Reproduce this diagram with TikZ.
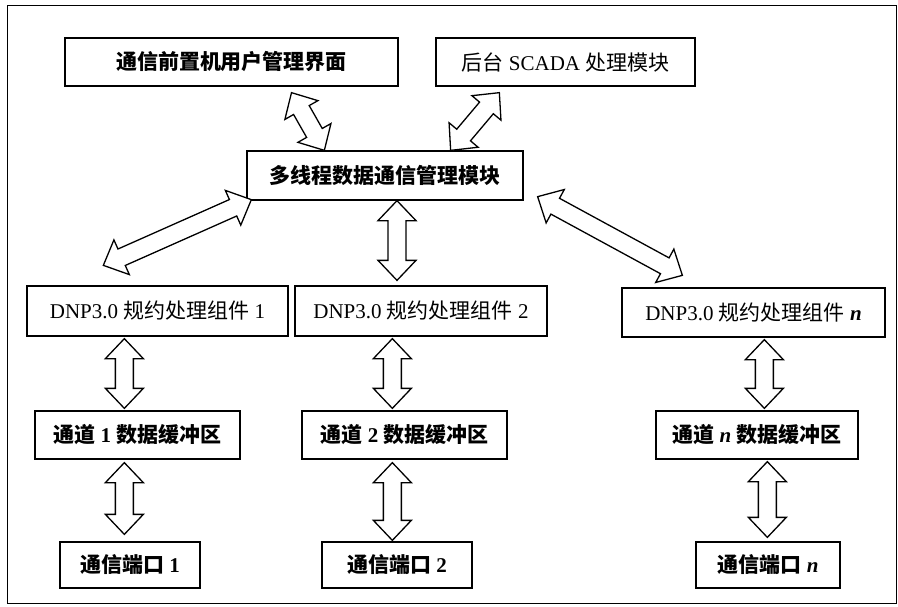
\documentclass[tikz,border=0pt]{standalone}
\usepackage{fontspec}
\setmainfont{Liberation Serif}
\newfontfamily\cjk{Noto Sans CJK SC}
\usetikzlibrary{calc}
\tikzset{
  box/.style={draw, line width=1.3pt, inner sep=0pt, font=\fontsize{21}{25}\selectfont},
  harrow/.style={draw, fill=white, line width=1.3pt, line join=miter},
  frame/.style={draw, line width=1pt}
}
\def\arHW{19pt}\def\arSW{9pt}\def\arHL{20pt}
\newcommand\hollow[2]{%
  \path[harrow] let \p1=(#1), \p2=(#2), \n1={atan2(\y2-\y1,\x2-\x1)}, \n2={veclen(\x2-\x1,\y2-\y1)} in
  (\p1) -- ($(\p1)+({\n1}:\arHL)+({\n1+90}:\arHW)$)
  -- ($(\p1)+({\n1}:\arHL)+({\n1+90}:\arSW)$)
  -- ($(\p1)+({\n1}:{\n2-\arHL})+({\n1+90}:\arSW)$)
  -- ($(\p1)+({\n1}:{\n2-\arHL})+({\n1+90}:\arHW)$)
  -- (\p2)
  -- ($(\p1)+({\n1}:{\n2-\arHL})+({\n1-90}:\arHW)$)
  -- ($(\p1)+({\n1}:{\n2-\arHL})+({\n1-90}:\arSW)$)
  -- ($(\p1)+({\n1}:\arHL)+({\n1-90}:\arSW)$)
  -- ($(\p1)+({\n1}:\arHL)+({\n1-90}:\arHW)$)
  -- cycle;}
\begin{document}
\begin{tikzpicture}[x=1pt,y=-1pt]
\useasboundingbox (0,0) rectangle (898,606);
\draw[frame] (7,5) rectangle (896,603);

\node[box, minimum width=333pt, minimum height=48pt] (b1) at (231.5,62) {\cjk\bfseries 通信前置机用户管理界面};
\node[box, minimum width=259pt, minimum height=48pt] (b2) at (565.5,62) {{\cjk 后台} SCADA {\cjk 处理模块}};
\node[box, minimum width=276pt, minimum height=49pt] (b3) at (385,175.5) {\cjk\bfseries 多线程数据通信管理模块};
\node[box, minimum width=261pt, minimum height=50pt] (b4) at (157.5,311) {DNP3.0 {\cjk 规约处理组件} 1};
\node[box, minimum width=252pt, minimum height=50pt] (b5) at (421,311) {DNP3.0 {\cjk 规约处理组件} 2};
\node[box, minimum width=263pt, minimum height=49pt] (b6) at (753.5,312.5) {DNP3.0 {\cjk 规约处理组件} \textbf{\textit{n}}};
\node[box, minimum width=205pt, minimum height=48pt] (b7) at (137.5,435) {{\cjk\bfseries 通道} \textbf{1} {\cjk\bfseries 数据缓冲区}};
\node[box, minimum width=205pt, minimum height=48pt] (b8) at (404.5,435) {{\cjk\bfseries 通道} \textbf{2} {\cjk\bfseries 数据缓冲区}};
\node[box, minimum width=202pt, minimum height=48pt] (b9) at (757,435) {{\cjk\bfseries 通道} \textbf{\textit{n}} {\cjk\bfseries 数据缓冲区}};
\node[box, minimum width=140pt, minimum height=46pt] (b10) at (130,565) {{\cjk\bfseries 通信端口} \textbf{1}};
\node[box, minimum width=150pt, minimum height=46pt] (b11) at (397,565) {{\cjk\bfseries 通信端口} \textbf{2}};
\node[box, minimum width=144pt, minimum height=46pt] (b12) at (768,565) {{\cjk\bfseries 通信端口} \textbf{\textit{n}}};

\coordinate (pA1) at ($(b1.south)+(60,6)$);
\coordinate (pA2) at ($(b3.north west)+(78,0)$);
\coordinate (pB1) at ($(b2.south west)+(64,6)$);
\coordinate (pB2) at ($(b3.north east)+(-73,0)$);
\coordinate (pC1) at ($(b3.south west)+(5,-1)$);
\coordinate (pC2) at ($(b4.north west)+(77,-20)$);
\coordinate (pD1) at ($(b3.south)+(12,0)$);
\coordinate (pD2) at ($(b5.north)+(-24,-5)$);
\coordinate (pE1) at ($(b3.south east)+(14,-4)$);
\coordinate (pE2) at ($(b6.north west)+(61,-12)$);
\coordinate (p47a) at ($(b4.south west)+(98,2)$);
\coordinate (p47b) at ($(b7.north west)+(90,-2)$);
\coordinate (p58a) at ($(b5.south west)+(98,2)$);
\coordinate (p58b) at ($(b8.north west)+(91,-2)$);
\coordinate (p69a) at ($(b6.south west)+(143,2)$);
\coordinate (p69b) at ($(b9.north west)+(109,-2)$);
\coordinate (p710a) at ($(b7.south west)+(90,3)$);
\coordinate (p710b) at ($(b10.north west)+(65,-7)$);
\coordinate (p811a) at ($(b8.south west)+(91,3)$);
\coordinate (p811b) at ($(b11.north west)+(71,-1)$);
\coordinate (p912a) at ($(b9.south west)+(112,2)$);
\coordinate (p912b) at ($(b12.north west)+(72,-4)$);

\hollow{pA1}{pA2}
\hollow{pB1}{pB2}
\hollow{pC1}{pC2}
\hollow{pD1}{pD2}
\hollow{pE1}{pE2}
\hollow{p47a}{p47b}
\hollow{p58a}{p58b}
\hollow{p69a}{p69b}
\hollow{p710a}{p710b}
\hollow{p811a}{p811b}
\hollow{p912a}{p912b}
\end{tikzpicture}
\end{document}
